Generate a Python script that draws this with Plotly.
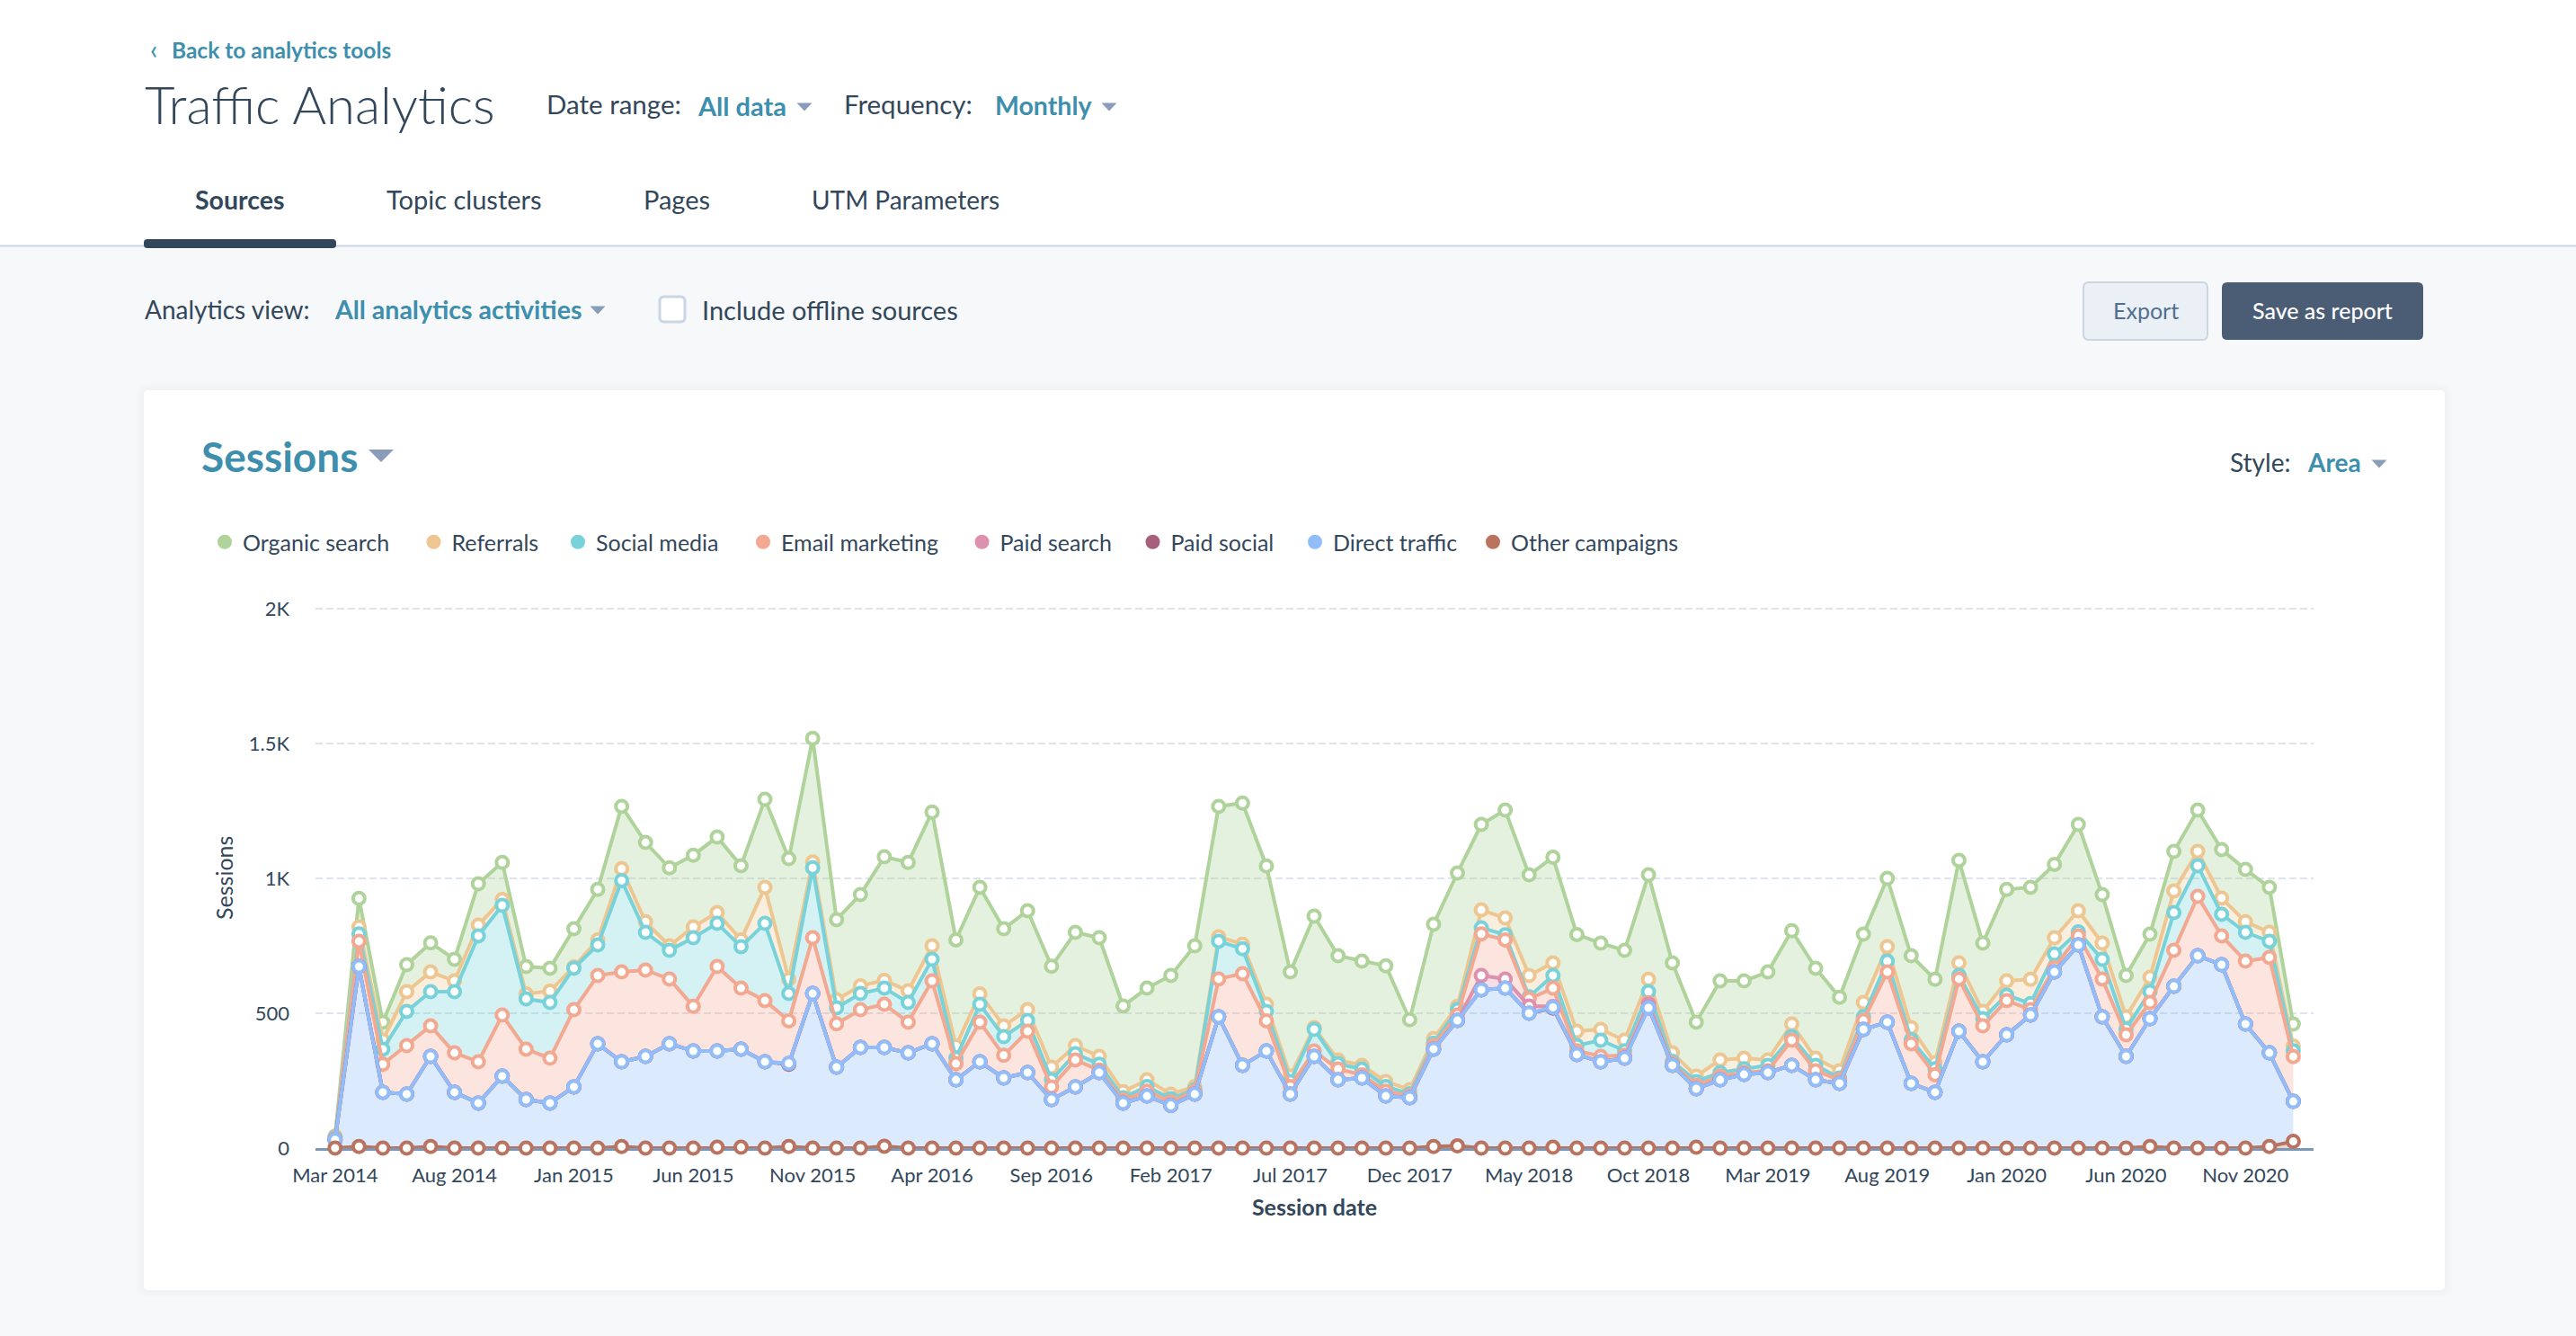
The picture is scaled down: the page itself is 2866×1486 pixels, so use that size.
import plotly.graph_objects as go
import pandas as pd

W, H = 2866, 1486

# Months on the axis (Mar 2014 .. Jan 2021)
months = [d.strftime("%b %Y") for d in pd.date_range("2014-03-01", periods=83, freq="MS")]
tick_labels = ["Mar 2014", "Aug 2014", "Jan 2015", "Jun 2015", "Nov 2015", "Apr 2016", "Sep 2016", "Feb 2017",
               "Jul 2017", "Dec 2017", "May 2018", "Oct 2018", "Mar 2019", "Aug 2019", "Jan 2020", "Jun 2020", "Nov 2020"]

# Stacked levels (each line's height on the Sessions axis)
organic = [44, 926, 467, 680, 761, 700, 980, 1059, 673, 667, 813, 959, 1267, 1133, 1039, 1086, 1153, 1047, 1293, 1073,
           1519, 847, 940, 1080, 1059, 1246, 772, 967, 813, 880, 674, 800, 780, 527, 593, 640, 750, 1267, 1279, 1046,
           653, 860, 713, 693, 676, 476, 830, 1020, 1200, 1253, 1013, 1078, 792, 760, 733, 1013, 687, 467, 620, 620,
           653, 806, 667, 559, 793, 1000, 713, 626, 1067, 760, 959, 967, 1052, 1200, 940, 640, 793, 1100, 1253, 1107,
           1033, 967, 460]
referrals = [42, 820, 400, 580, 653, 620, 827, 922, 572, 582, 672, 772, 1036, 839, 750, 820, 873, 772, 967, 626,
             1061, 550, 602, 622, 583, 750, 378, 572, 453, 513, 300, 380, 340, 209, 253, 200, 228, 783, 756, 533,
             267, 447, 327, 307, 247, 217, 406, 526, 883, 853, 640, 687, 433, 440, 400, 626, 353, 267, 327, 333,
             327, 460, 333, 287, 540, 747, 447, 317, 687, 507, 620, 626, 780, 880, 760, 487, 633, 953, 1100, 927,
             839, 800, 378]
social = [39, 794, 367, 507, 580, 580, 787, 900, 553, 540, 667, 753, 992, 800, 733, 780, 833, 747, 833, 573,
          1039, 520, 573, 593, 540, 700, 333, 533, 413, 473, 253, 350, 311, 187, 228, 183, 217, 767, 739, 507,
          247, 440, 313, 293, 228, 202, 389, 513, 817, 791, 561, 640, 380, 400, 361, 580, 322, 247, 280, 294,
          307, 413, 307, 260, 487, 693, 402, 294, 640, 480, 567, 536, 720, 802, 700, 442, 580, 873, 1047, 867,
          800, 767, 361]
email = [36, 767, 311, 380, 453, 353, 320, 493, 367, 333, 513, 640, 653, 660, 627, 526, 673, 593, 547, 472,
         780, 461, 513, 533, 467, 620, 313, 467, 344, 433, 227, 327, 289, 178, 211, 172, 211, 627, 647, 472,
         228, 360, 293, 272, 211, 194, 380, 493, 794, 772, 553, 593, 361, 340, 344, 539, 313, 233, 267, 280,
         287, 400, 287, 253, 473, 653, 387, 272, 627, 453, 547, 513, 669, 787, 627, 420, 540, 733, 933, 787,
         693, 707, 339]
paid_search = [31, 673, 207, 200, 340, 207, 167, 267, 180, 167, 227, 387, 320, 340, 387, 360, 360, 367, 320, 314,
               573, 300, 373, 373, 353, 387, 253, 320, 260, 280, 180, 227, 280, 167, 193, 158, 200, 487, 307, 360,
               200, 340, 253, 260, 193, 187, 367, 473, 640, 627, 527, 525, 347, 320, 333, 533, 307, 220, 253, 273,
               280, 307, 253, 240, 440, 467, 240, 207, 433, 320, 420, 493, 653, 753, 487, 340, 480, 600, 713, 680,
               460, 353, 173]
paid_social = [31, 673, 207, 200, 340, 207, 167, 267, 180, 167, 227, 387, 320, 340, 387, 360, 360, 367, 320, 311,
               573, 300, 373, 373, 353, 387, 253, 320, 260, 280, 180, 227, 280, 167, 193, 158, 200, 487, 307, 360,
               200, 340, 253, 260, 193, 187, 367, 473, 587, 593, 500, 519, 347, 320, 333, 520, 307, 220, 253, 273,
               280, 307, 253, 240, 440, 467, 240, 207, 433, 320, 420, 493, 653, 753, 487, 340, 480, 600, 713, 680,
               460, 353, 173]
direct = [31, 673, 207, 200, 340, 207, 167, 267, 180, 167, 227, 387, 320, 340, 387, 360, 360, 367, 320, 314,
          573, 300, 373, 373, 353, 387, 253, 320, 260, 280, 180, 227, 280, 167, 193, 158, 200, 487, 307, 360,
          200, 340, 253, 260, 193, 187, 367, 473, 587, 593, 500, 522, 347, 320, 333, 520, 307, 220, 253, 273,
          280, 307, 253, 240, 440, 467, 240, 207, 433, 320, 420, 493, 653, 753, 487, 340, 480, 600, 713, 680,
          460, 353, 173]
other = [0, 6, 0, 0, 6, 0, 0, 0, 0, 0, 0, 0, 6, 0, 0, 0, 3, 3, 0, 6,
         0, 0, 0, 7, 0, 0, 0, 0, 0, 0, 0, 0, 0, 0, 0, 0, 0, 0, 0, 0,
         0, 0, 0, 0, 0, 0, 6, 8, 0, 0, 0, 3, 0, 0, 0, 0, 0, 3, 0, 0,
         0, 0, 0, 0, 0, 0, 0, 0, 0, 0, 0, 0, 0, 0, 0, 0, 6, 0, 0, 0,
         0, 6, 25]

names = ["Organic search", "Referrals", "Social media", "Email marketing",
         "Paid search", "Paid social", "Direct traffic", "Other campaigns"]
levels = [organic, referrals, social, email, paid_search, paid_social, direct, other]
line_colors = ["#AFD39B", "#EEC691", "#78D2DA", "#F2A891", "#DE91AF", "#A6607D", "#91BEFA", "#B9735F"]
fill_colors = ["rgba(175,211,155,0.32)", "rgba(238,198,145,0.30)", "rgba(120,210,218,0.32)", "rgba(242,168,145,0.30)",
               "rgba(222,145,175,0.30)", "rgba(166,96,125,0.30)", "rgba(145,190,250,0.33)", "rgba(185,115,95,0.30)"]
legend_dot_x = [251.5, 484, 644.5, 850.5, 1094, 1284, 1464.5, 1662.5]

DARK = "#33475B"
TEAL = "#3D8FAD"
CARET = "#8A9DB8"
FONT = "Lato"

fig = go.Figure()

# Filled bands, bottom-up, each one down to the line beneath it
for i in range(len(names) - 1, -1, -1):
    fig.add_trace(go.Scatter(x=months, y=levels[i], mode="none", fillcolor=fill_colors[i],
                             fill="tozeroy" if i == len(names) - 1 else "tonexty",
                             showlegend=False, hoverinfo="skip"))
# Lines and hollow points, top-down so the lower series sit on top
for i, nm in enumerate(names):
    fig.add_trace(go.Scatter(x=months, y=levels[i], mode="lines+markers", name=nm, legendgroup=nm, showlegend=False,
                             line=dict(color=line_colors[i], width=4),
                             marker=dict(color="white", size=13, line=dict(color=line_colors[i], width=4)),
                             cliponaxis=False))
# Legend entries: solid dots, one legend per entry so each can sit where the reference has it
for i, nm in enumerate(names):
    fig.add_trace(go.Scatter(x=[None], y=[None], mode="markers", name=nm, legendgroup=nm,
                             legend="legend" if i == 0 else f"legend{i + 1}",
                             marker=dict(color=line_colors[i], size=16)))


def px(x):
    return x / W


def py(y):
    return 1 - y / H


def rrect(x0, y0, x1, y1, r=6):
    X0, X1, Y0, Y1 = px(x0), px(x1), py(y0), py(y1)
    rx, ry = r / W, r / H
    return (f"M{X0+rx},{Y0} L{X1-rx},{Y0} Q{X1},{Y0} {X1},{Y0-ry} L{X1},{Y1+ry} Q{X1},{Y1} {X1-rx},{Y1} "
            f"L{X0+rx},{Y1} Q{X0},{Y1} {X0},{Y1+ry} L{X0},{Y0-ry} Q{X0},{Y0} {X0+rx},{Y0} Z")


shapes = []


def rect(x0, y0, x1, y1, fill, line=None, lw=0, r=0):
    shapes.append(dict(type="path", xref="paper", yref="paper", layer="below", path=rrect(x0, y0, x1, y1, r),
                       fillcolor=fill, line=dict(color=line or "rgba(0,0,0,0)", width=lw)))


def caret(cx, cy, w=18, h=9, color=CARET):
    p = f"M{px(cx-w/2)},{py(cy-h/2)} L{px(cx+w/2)},{py(cy-h/2)} L{px(cx)},{py(cy+h/2)} Z"
    shapes.append(dict(type="path", xref="paper", yref="paper", layer="below", path=p, fillcolor=color,
                       line=dict(width=0)))


# Page: grey body below the header
rect(0, 274, W, H, "#F6F8FA")
rect(0, 272.5, W, 274.5, "#CBD6E2")
rect(160, 266, 374, 276, DARK, r=4)
# Card with a soft shadow
for g in (8, 5, 2):
    rect(160 - g, 434 - g, 2720 + g, 1435 + g, "rgba(45,62,80,0.012)", r=6 + g)
rect(160, 434, 2720, 1435, "#FFFFFF", r=5)
# Buttons and checkbox
rect(2318, 314, 2456, 378, "#EAF0F6", "#CBD6E2", 2, 6)
rect(2472, 314, 2696, 378, "#4A5D75", r=6)
rect(734, 330, 762, 358, "#FFFFFF", "#CBD6E2", 3, 5)
# Carets
caret(895, 119, 17, 9)
caret(1234, 119, 17, 9)
caret(665, 345, 17, 9)
caret(424, 507, 28, 14)
caret(2647, 516, 17, 9)

texts = [
    ("‹", 165, 54, 30, TEAL, 400, "left"),
    ("Back to analytics tools", 189, 55, 24.5, TEAL, 700, "left"),
    ("Traffic Analytics", 159, 115, 58, DARK, 300, "left"),
    ("Date range:", 606, 116, 29.5, DARK, 400, "left"),
    ("All data", 774, 117, 29, TEAL, 700, "left"),
    ("Frequency:", 937, 116, 29.5, DARK, 400, "left"),
    ("Monthly", 1105, 117, 28.5, TEAL, 700, "left"),
    ("Sources", 215, 222, 28.5, DARK, 700, "left"),
    ("Topic clusters", 428, 222, 29, DARK, 400, "left"),
    ("Pages", 714, 222, 29, DARK, 400, "left"),
    ("UTM Parameters", 901, 222, 28, DARK, 400, "left"),
    ("Analytics view:", 159, 344, 28, DARK, 400, "left"),
    ("All analytics activities", 370, 344, 28.5, TEAL, 700, "left"),
    ("Include offline sources", 779, 344, 29, DARK, 400, "left"),
    ("Export", 2387, 345, 25, "#516F90", 400, "center"),
    ("Save as report", 2584, 345, 25, "#FFFFFF", 500, "center"),
    ("Sessions", 222, 508, 46, TEAL, 700, "left"),
    ("Style:", 2479, 514, 28, DARK, 400, "left"),
    ("Area", 2565, 514, 28, TEAL, 700, "left"),
]
annotations = [dict(text=t, x=px(x), y=py(y), xref="paper", yref="paper", xanchor=a, yanchor="middle", showarrow=False,
                    font=dict(family=FONT, size=s, color=c, weight=w))
               for t, x, y, s, c, w, a in texts]

legends = {("legend" if i == 0 else f"legend{i + 1}"): dict(
    orientation="h", x=px(legend_dot_x[i] - 21.5), y=py(603), xanchor="left", yanchor="middle", bgcolor="rgba(0,0,0,0)",
    itemwidth=30, font=dict(family=FONT, size=25, color=DARK), itemclick=False, itemdoubleclick=False)
    for i in range(len(names))}

fig.update_layout(
    width=W, height=H, margin=dict(l=0, r=0, t=0, b=0, pad=0), paper_bgcolor="white", plot_bgcolor="rgba(0,0,0,0)",
    font=dict(family=FONT, size=22, color=DARK), shapes=shapes, annotations=annotations, hovermode="x",
    xaxis=dict(domain=[px(351), px(2574)], type="category", categoryorder="array", categoryarray=months,
               range=[-0.82, 82.85], tickmode="array", tickvals=months[::5], ticktext=tick_labels,
               showgrid=False, zeroline=False, showline=True, linecolor="#7C98B6", linewidth=3,
               ticks="inside", ticklen=8, tickwidth=2, tickcolor="#7C98B6", layer="below traces",
               tickangle=0, ticklabelstandoff=9, tickfont=dict(family=FONT, size=22, color=DARK),
               title=dict(text="<b>Session date</b>", standoff=16, font=dict(family=FONT, size=25, color=DARK)),
               automargin=False),
    yaxis=dict(domain=[py(1277), py(675.5)], range=[0, 2005], tickmode="array", tickvals=[0, 500, 1000, 1500, 2000],
               ticktext=["0", "500", "1K", "1.5K", "2K"], showgrid=True, gridcolor="#DFE3EB", gridwidth=2,
               griddash="8px,4px", zeroline=False, showline=False, ticks="", ticklabelstandoff=28,
               tickfont=dict(family=FONT, size=22, color=DARK),
               title=dict(text="Sessions", standoff=9, font=dict(family=FONT, size=25, color=DARK)),
               automargin=False),
    **legends,
)

fig.write_html("out.html", config=dict(displayModeBar=False, responsive=False),
               post_script="document.body.style.margin='0';document.documentElement.style.overflow='hidden';")
